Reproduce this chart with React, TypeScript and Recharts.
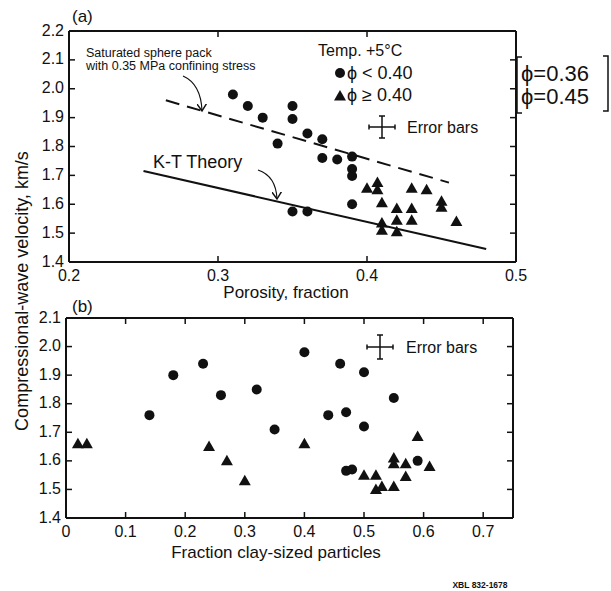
import React from 'react'
import { ScatterChart, Scatter, XAxis, YAxis } from 'recharts'

// panel (a): velocity against porosity
const porosityTicks = [0.2, 0.3, 0.4, 0.5]
const velTicksA = [1.4, 1.5, 1.6, 1.7, 1.8, 1.9, 2.0, 2.1, 2.2]

const circlesA = [
  { x: 0.31, y: 1.98 }, { x: 0.32, y: 1.94 }, { x: 0.33, y: 1.9 },
  { x: 0.35, y: 1.94 }, { x: 0.35, y: 1.895 }, { x: 0.34, y: 1.81 },
  { x: 0.36, y: 1.845 }, { x: 0.37, y: 1.825 }, { x: 0.37, y: 1.76 },
  { x: 0.38, y: 1.755 }, { x: 0.39, y: 1.765 }, { x: 0.39, y: 1.722 },
  { x: 0.39, y: 1.698 }, { x: 0.39, y: 1.6 }, { x: 0.35, y: 1.575 },
  { x: 0.36, y: 1.575 },
]

const trianglesA = [
  { x: 0.4, y: 1.655 }, { x: 0.407, y: 1.675 }, { x: 0.407, y: 1.65 },
  { x: 0.43, y: 1.655 }, { x: 0.44, y: 1.65 }, { x: 0.41, y: 1.605 },
  { x: 0.42, y: 1.585 }, { x: 0.43, y: 1.585 }, { x: 0.42, y: 1.545 },
  { x: 0.43, y: 1.545 }, { x: 0.41, y: 1.535 }, { x: 0.41, y: 1.51 },
  { x: 0.42, y: 1.505 }, { x: 0.45, y: 1.61 }, { x: 0.45, y: 1.59 },
  { x: 0.46, y: 1.54 },
]

const spherePack = [{ x: 0.265, y: 1.96 }, { x: 0.455, y: 1.675 }]
const ktTheory = [{ x: 0.25, y: 1.715 }, { x: 0.48, y: 1.445 }]

// panel (b): velocity against clay fraction
const clayTicks = [0, 0.1, 0.2, 0.3, 0.4, 0.5, 0.6, 0.7]
const velTicksB = [1.4, 1.5, 1.6, 1.7, 1.8, 1.9, 2.0, 2.1]

const circlesB = [
  { x: 0.14, y: 1.76 }, { x: 0.18, y: 1.9 }, { x: 0.23, y: 1.94 },
  { x: 0.26, y: 1.83 }, { x: 0.32, y: 1.85 }, { x: 0.35, y: 1.71 },
  { x: 0.4, y: 1.98 }, { x: 0.46, y: 1.94 }, { x: 0.5, y: 1.91 },
  { x: 0.55, y: 1.82 }, { x: 0.44, y: 1.76 }, { x: 0.47, y: 1.77 },
  { x: 0.5, y: 1.72 }, { x: 0.47, y: 1.565 }, { x: 0.48, y: 1.57 },
  { x: 0.59, y: 1.6 },
]

const trianglesB = [
  { x: 0.02, y: 1.66 }, { x: 0.035, y: 1.66 }, { x: 0.24, y: 1.65 },
  { x: 0.27, y: 1.6 }, { x: 0.3, y: 1.53 }, { x: 0.4, y: 1.66 },
  { x: 0.59, y: 1.685 }, { x: 0.55, y: 1.61 }, { x: 0.55, y: 1.59 },
  { x: 0.57, y: 1.59 }, { x: 0.61, y: 1.58 }, { x: 0.5, y: 1.55 },
  { x: 0.52, y: 1.55 }, { x: 0.57, y: 1.545 }, { x: 0.52, y: 1.5 },
  { x: 0.53, y: 1.51 }, { x: 0.55, y: 1.51 },
]

const INK = '#111'
const FONT = '"Liberation Sans", Arial, sans-serif'
const TM = 4

const fmt = (v: number) => (v === 0 ? '0' : v.toFixed(1))

const LeftTick = ({ x, y, payload }: any) => (
  <g>
    <line x1={x + TM} x2={x + TM + 6} y1={y} y2={y} stroke={INK} strokeWidth={1.5} />
    <text x={x - 1} y={y} dy={4.5} textAnchor="end" fontSize={16} fontFamily={FONT} fill={INK}>
      {fmt(payload.value)}
    </text>
  </g>
)

const BottomTick = ({ x, y, payload }: any) => (
  <g>
    <line x1={x} x2={x} y1={y - TM} y2={y - TM - 6} stroke={INK} strokeWidth={1.5} />
    <text x={x} y={y} dy={15} textAnchor="middle" fontSize={16} fontFamily={FONT} fill={INK}>
      {fmt(payload.value)}
    </text>
  </g>
)

const NoTick = () => <g />
const Dot = ({ cx, cy }: any) => <circle cx={cx} cy={cy} r={5} fill={INK} />
const Tri = ({ cx, cy }: any) => (
  <path d={`M${cx},${cy - 6} L${cx + 6},${cy + 4.5} L${cx - 6},${cy + 4.5} Z`} fill={INK} />
)
const NoShape = () => <g />

const boxLine = { stroke: INK, strokeWidth: 2 }
const tickLine = { stroke: INK, strokeWidth: 1.5 }

function Axes({ xd, yd, xt, yt }: { xd: number[]; yd: number[]; xt: number[]; yt: number[] }) {
  return [
    <XAxis key="xb" type="number" dataKey="x" domain={xd} ticks={xt} allowDataOverflow
      height={30} tickSize={0} tickMargin={TM} tickLine={false} axisLine={boxLine} tick={<BottomTick />} />,
    <YAxis key="yl" type="number" dataKey="y" domain={yd} ticks={yt} allowDataOverflow
      width={45} tickSize={0} tickMargin={TM} tickLine={false} axisLine={boxLine} tick={<LeftTick />} />,
    <XAxis key="xt" xAxisId="top" orientation="top" mirror type="number" dataKey="x" domain={xd} ticks={xt}
      allowDataOverflow height={10} tickSize={6} tick={<NoTick />} tickLine={tickLine} axisLine={boxLine} />,
    <YAxis key="yr" yAxisId="right" orientation="right" mirror type="number" dataKey="y" domain={yd} ticks={yt}
      allowDataOverflow width={10} tickSize={6} tick={<NoTick />} tickLine={tickLine} axisLine={boxLine} />,
  ]
}

function ErrorCross({ cx, cy, hw, hh }: { cx: number; cy: number; hw: number; hh: number }) {
  return (
    <g stroke={INK} strokeWidth={1.5}>
      <line x1={cx - hw} x2={cx + hw} y1={cy} y2={cy} />
      <line x1={cx} x2={cx} y1={cy - hh} y2={cy + hh} />
      <line x1={cx - hw} x2={cx - hw} y1={cy - 2.5} y2={cy + 2.5} />
      <line x1={cx + hw} x2={cx + hw} y1={cy - 2.5} y2={cy + 2.5} />
      <line x1={cx - 3} x2={cx + 3} y1={cy - hh} y2={cy - hh} />
      <line x1={cx - 3} x2={cx + 3} y1={cy + hh} y2={cy + hh} />
    </g>
  )
}

export default function App() {
  return (
    <div style={{ position: 'absolute', left: 0, top: 0, width: 611, height: 591, background: '#fff' }}>
      <div style={{ position: 'absolute', left: 0, top: 0 }}>
        <ScatterChart width={611} height={300} margin={{ top: 31, right: 95, bottom: 8, left: 24 }}>
          {Axes({ xd: [0.2, 0.5], yd: [1.4, 2.2], xt: porosityTicks, yt: velTicksA })}
          {/* invisible series so the top/right frame axes get drawn */}
          <Scatter xAxisId="top" yAxisId="right" data={circlesA} shape={NoShape} isAnimationActive={false} />
          <Scatter data={spherePack} shape={NoShape} isAnimationActive={false}
            line={{ stroke: INK, strokeWidth: 2, strokeDasharray: '14 8' }} />
          <Scatter data={ktTheory} shape={NoShape} isAnimationActive={false}
            line={{ stroke: INK, strokeWidth: 2 }} />
          <Scatter data={circlesA} shape={Dot} isAnimationActive={false} />
          <Scatter data={trianglesA} shape={Tri} isAnimationActive={false} />
        </ScatterChart>
      </div>
      <div style={{ position: 'absolute', left: 0, top: 290 }}>
        <ScatterChart width={611} height={270} margin={{ top: 28, right: 98, bottom: 12, left: 21 }}>
          {Axes({ xd: [0, 0.75], yd: [1.4, 2.1], xt: clayTicks, yt: velTicksB })}
          <Scatter xAxisId="top" yAxisId="right" data={circlesB} shape={NoShape} isAnimationActive={false} />
          <Scatter data={circlesB} shape={Dot} isAnimationActive={false} />
          <Scatter data={trianglesB} shape={Tri} isAnimationActive={false} />
        </ScatterChart>
      </div>
      <svg width={611} height={591} style={{ position: 'absolute', left: 0, top: 0, pointerEvents: 'none' }}
        fontFamily={FONT} fill={INK}>
        <defs>
          <marker id="ah" markerWidth="8" markerHeight="8" refX="6" refY="4" orient="auto">
            <path d="M0,0 L6,4 L0,8" fill="none" stroke={INK} strokeWidth={1.2} />
          </marker>
        </defs>
        <text x={72} y={22} fontSize={17}>(a)</text>
        <text x={72} y={312} fontSize={17}>(b)</text>

        <text x={86} y={57} fontSize={12.5}>Saturated sphere pack</text>
        <text x={86} y={70} fontSize={12.5}>with 0.35 MPa confining stress</text>
        <path d="M183,76 Q201,84 202,111" fill="none" stroke={INK} strokeWidth={1.2} markerEnd="url(#ah)" />

        <text x={153} y={168} fontSize={18}>K-T Theory</text>
        <path d="M258,170 Q276,176 277,199" fill="none" stroke={INK} strokeWidth={1.2} markerEnd="url(#ah)" />

        <text x={318} y={56} fontSize={16}>Temp. +5°C</text>
        <circle cx={340} cy={73} r={5} fill={INK} />
        <text x={347} y={79} fontSize={18}>ϕ &lt; 0.40</text>
        <path d="M340,90 L346,100.5 L334,100.5 Z" fill={INK} />
        <text x={347} y={101} fontSize={18}>ϕ ≥ 0.40</text>

        <ErrorCross cx={382} cy={127} hw={13} hh={11} />
        <text x={407} y={133} fontSize={16}>Error bars</text>
        <ErrorCross cx={380} cy={347} hw={13} hh={12} />
        <text x={406} y={353} fontSize={16}>Error bars</text>

        <path d="M522,57 L517,57 L517,113 L522,113" fill="none" stroke={INK} strokeWidth={1.5} />
        <path d="M603,56 L608,56 L608,111 L603,111" fill="none" stroke={INK} strokeWidth={1.5} />
        <text x={521} y={81} fontSize={22}>ϕ=0.36</text>
        <text x={521} y={104} fontSize={22}>ϕ=0.45</text>

        <text x={22} y={291} fontSize={18} textAnchor="middle" transform="rotate(-90 22 291)" dy={6}>
          Compressional-wave velocity, km/s
        </text>
        <text x={286} y={298} fontSize={17} textAnchor="middle">Porosity, fraction</text>
        <text x={276} y={558} fontSize={17} textAnchor="middle">Fraction clay-sized particles</text>
        <text x={480} y={588} fontSize={8.5} fontWeight="bold" textAnchor="middle">XBL 832-1678</text>
      </svg>
    </div>
  )
}
